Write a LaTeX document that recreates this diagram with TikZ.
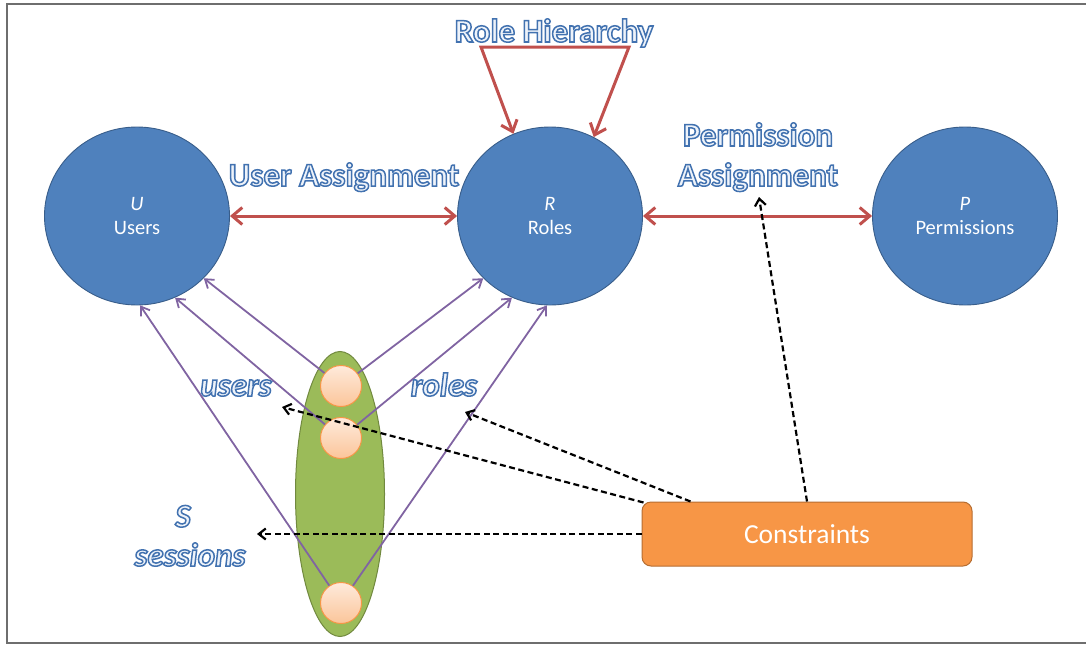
\documentclass[tikz,border=0pt]{standalone}
\usepackage{fontspec}
\setmainfont{Carlito}
\usetikzlibrary{arrows.meta,shapes.geometric,calc}

\definecolor{setblue}{HTML}{4F81BD}
\definecolor{setedge}{HTML}{385D8A}
\definecolor{assignred}{HTML}{C0504D}
\definecolor{sessline}{HTML}{8064A2}
\definecolor{sessgreen}{HTML}{9BBB59}
\definecolor{sessedge}{HTML}{71893F}
\definecolor{peachtop}{HTML}{FEEADB}
\definecolor{peachbot}{HTML}{FBC59A}
\definecolor{peachedge}{HTML}{F79646}
\definecolor{constrfill}{HTML}{F79646}
\definecolor{constredge}{HTML}{B66D31}
\definecolor{artfill}{HTML}{EEF3FA}
\definecolor{framegray}{HTML}{6E6E6E}

% outlined lettering: pale fill, blue stroke (PDF text render mode 2)
\newcommand{\outlined}[1]{%
  \special{pdf:literal direct 2 Tr 1.5 w 0.259 0.447 0.690 RG}%
  #1%
  \special{pdf:literal direct 0 Tr}}

\tikzset{
  setnode/.style={ellipse, draw=setedge, line width=0.9pt, fill=setblue,
    minimum width=185pt, minimum height=178pt, inner sep=0pt,
    text=white, align=center, font=\fontsize{20.5}{24}\selectfont},
  assignarrow/.style={draw=assignred, line width=3pt,
    {Straight Barb[length=10pt,width=17pt]}-{Straight Barb[length=10pt,width=17pt]}},
  sessarrow/.style={draw=sessline, line width=1.8pt,
    -{Straight Barb[length=8pt,width=11pt]}},
  constrarrow/.style={draw=black, line width=2.2pt, dash pattern=on 6pt off 3.5pt,
    -{Straight Barb[length=7pt,width=11pt]}},
  sessellipse/.style={ellipse, draw=sessedge, line width=1pt, fill=sessgreen,
    minimum width=89pt, minimum height=285pt, inner sep=0pt},
  sessdot/.style={circle, draw=peachedge, line width=1pt,
    top color=peachtop, bottom color=peachbot,
    minimum size=41pt, inner sep=0pt},
  constrbox/.style={rectangle, rounded corners=9pt, draw=constredge, line width=1pt,
    fill=constrfill, minimum width=330pt, minimum height=64pt,
    text=white, font=\fontsize{27.5}{33}\selectfont},
  wordart/.style={inner sep=0pt, anchor=base, text=artfill,
    font=\fontsize{33}{40}\selectfont\bfseries},
  wordartit/.style={wordart, font=\fontsize{33}{40}\selectfont\bfseries\itshape},
}

\begin{document}
\begin{tikzpicture}[x=1pt,y=-1pt]
\useasboundingbox (0,0) rectangle (1086,645);

% page frame
\draw[framegray, line width=1.6pt] (1086,4) -- (7,4) -- (7,643) -- (1086,643);

% the three sets
\node[setnode] (U) at (137,216) {\textit{U}\\Users};
\node[setnode] (R) at (550,216) {\textit{R}\\Roles};
\node[setnode] (P) at (965,216) {\textit{P}\\Permissions};

% assignment relations
\draw[assignarrow] (U) -- (R);
\draw[assignarrow] (R) -- (P);

% role hierarchy loop
\coordinate (rhL) at (481,47);
\coordinate (rhR) at (629,47);
\draw[assignarrow] (R.114) -- (rhL) -- (rhR) -- (R.61);

% sessions
\node[sessellipse] (S) at (340,494) {};
\node[sessdot] (s1) at (341,386) {};
\node[sessdot] (s2) at (341,438) {};
\node[sessdot] (s3) at (341,603) {};

% session -> user and session -> roles
\draw[sessarrow] (s1) -- (U.-43);
\draw[sessarrow] (s2) -- (U.-65);
\draw[sessarrow] (s3) -- (U.-88);
\draw[sessarrow] (s1) -- (R.223.6);
\draw[sessarrow] (s2) -- (R.245);
\draw[sessarrow] (s3) -- (R.268.7);

% labels
\node[wordart] (rhlabel) at (554,42) {\outlined{Role Hierarchy}};
\node[wordart] (ualabel) at (344,186) {\outlined{User Assignment}};
\node[wordart] (palabel1) at (758,146) {\outlined{Permission}};
\node[wordart] (palabel2) at (758,186) {\outlined{Assignment}};
\node[wordartit] (userslabel) at (236,396) {\outlined{users}};
\node[wordartit] (roleslabel) at (444,396) {\outlined{roles}};
\node[wordartit] (slabel) at (183,527) {\outlined{S}};
\node[wordartit] (sesslabel) at (190,566) {\outlined{sessions}};

% constraints
\node[constrbox] (C) at (807,534) {Constraints};

\coordinate (tPA) at (759,197);
\coordinate (tRoles) at (465,412);
\coordinate (tUsers) at (282,407);
\coordinate (tSess) at (257,534);

\draw[constrarrow] (C.north) -- (tPA);
\draw[constrarrow] ([xshift=49pt]C.north west) -- (tRoles);
\draw[constrarrow] ([xshift=2pt,yshift=-1pt]C.north west) -- (tUsers);
\draw[constrarrow] (C.west) -- (tSess);
\end{tikzpicture}
\end{document}
